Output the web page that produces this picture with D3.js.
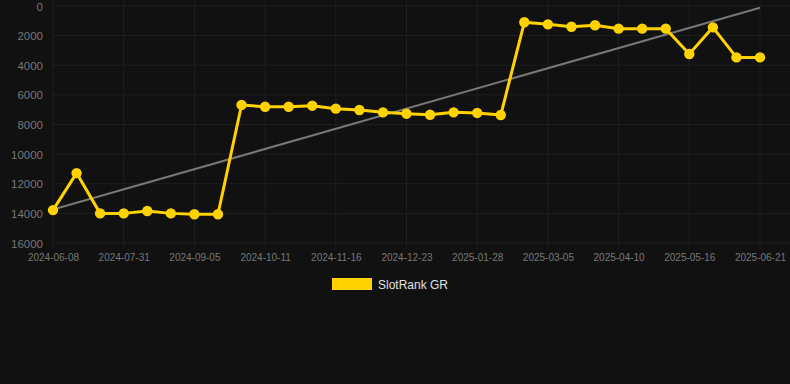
<!DOCTYPE html>
<html>
<head>
<meta charset="utf-8">
<script src="https://cdn.jsdelivr.net/npm/d3@7"></script>
<style>
  html, body { margin: 0; padding: 0; background: #111111; }
  svg { display: block; }
  text { font-family: Arial, "Liberation Sans", Helvetica, sans-serif; }
</style>
</head>
<body>
<div id="chart"></div>
<script>
const dates = [
  "2024-06-08","2024-06-26","2024-07-13","2024-07-31","2024-08-12","2024-08-24",
  "2024-09-05","2024-09-17","2024-09-29","2024-10-11","2024-10-23","2024-11-04",
  "2024-11-16","2024-11-28","2024-12-11","2024-12-23","2025-01-04","2025-01-16",
  "2025-01-28","2025-02-09","2025-02-21","2025-03-05","2025-03-17","2025-03-29",
  "2025-04-10","2025-04-22","2025-05-04","2025-05-16","2025-05-28","2025-06-09",
  "2025-06-21"
];
const rankValues = [
  13780, 11280, 14000, 14000, 13840, 14000, 14060, 14060,
  6680, 6800, 6800, 6730, 6930, 7020, 7180, 7270, 7340, 7180, 7220, 7360,
  1100, 1240, 1400, 1300, 1530, 1530, 1530, 3240, 1440, 3470, 3470
];
const yTicks = [0, 2000, 4000, 6000, 8000, 10000, 12000, 14000, 16000];
const seriesName = "SlotRank GR";

const W = 790, H = 384;
const svg = d3.select("#chart").append("svg").attr("width", W).attr("height", H);
svg.append("rect").attr("width", W).attr("height", H).attr("fill", "#111111");

const x = d3.scalePoint().domain(dates).range([53, 760]);
const y = d3.scaleLinear().domain([0, 16000]).range([6, 243]);

const gridColor = "#1f1f1f";
// horizontal grid
svg.append("g").selectAll("line").data(yTicks).join("line")
  .attr("x1", 52).attr("x2", W)
  .attr("y1", d => y(d)).attr("y2", d => y(d))
  .attr("stroke", gridColor).attr("stroke-width", 1);
// vertical grid (every 3rd category)
const xTickDates = dates.filter((d, i) => i % 3 === 0);
svg.append("g").selectAll("line").data(xTickDates).join("line")
  .attr("x1", d => x(d)).attr("x2", d => x(d))
  .attr("y1", 0).attr("y2", 249)
  .attr("stroke", gridColor).attr("stroke-width", 1);

// y axis labels
const yAxis = d3.axisLeft(y).tickValues(yTicks).tickSize(0).tickPadding(0).tickFormat(d3.format("d"));
const gy = svg.append("g").attr("transform", "translate(43,0)").call(yAxis);
gy.select(".domain").remove();
gy.selectAll("text").attr("fill", "#777").style("font-size", "11.5px")
  .attr("dy", "0.35em");

// x axis labels
const xAxis = d3.axisBottom(x).tickValues(xTickDates).tickSize(0).tickPadding(0);
const gx = svg.append("g").attr("transform", "translate(0,254)").call(xAxis);
gx.select(".domain").remove();
gx.selectAll("text").attr("fill", "#777").style("font-size", "10px").attr("dy", "0.71em");

// trend line (least squares on index)
const n = rankValues.length;
const mx = d3.mean(rankValues, (d, i) => i);
const my = d3.mean(rankValues);
let sxy = 0, sxx = 0;
rankValues.forEach((v, i) => { sxy += (i - mx) * (v - my); sxx += (i - mx) * (i - mx); });
const slope = sxy / sxx, intercept = my - slope * mx;
svg.append("line")
  .attr("x1", x(dates[0])).attr("y1", y(intercept))
  .attr("x2", x(dates[n - 1])).attr("y2", y(intercept + slope * (n - 1)))
  .attr("stroke", "#777").attr("stroke-width", 2);

// series line
const gold = "#FFD200";
const line = d3.line().x((d, i) => x(dates[i])).y(d => y(d));
svg.append("path").datum(rankValues).attr("d", line)
  .attr("fill", "none").attr("stroke", gold).attr("stroke-width", 3)
  .attr("stroke-linejoin", "round");
svg.append("g").selectAll("circle").data(rankValues).join("circle")
  .attr("cx", (d, i) => x(dates[i])).attr("cy", d => y(d)).attr("r", 5.2)
  .attr("fill", gold);

// legend
const lg = svg.append("g");
lg.append("rect").attr("x", 332).attr("y", 278).attr("width", 40).attr("height", 12).attr("fill", gold);
lg.append("text").attr("x", 378).attr("y", 288.5).attr("fill", "#e0e0e0")
  .style("font-size", "12px").text(seriesName);
</script>
</body>
</html>
